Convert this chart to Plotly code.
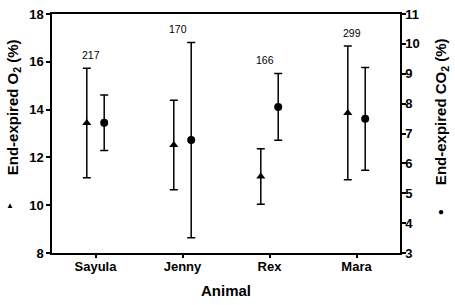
import plotly.graph_objects as go

animals = ["Sayula", "Jenny", "Rex", "Mara"]
o2_mean = [13.44, 12.52, 11.20, 13.86]
o2_sd = [2.29, 1.87, 1.16, 2.80]
co2_mean = [7.36, 6.78, 7.89, 7.49]
co2_sd = [0.93, 3.27, 1.12, 1.72]
n_breaths = ["217", "170", "166", "299"]

O2_RANGE = [8, 18]
CO2_RANGE = [3, 11]

xs = list(range(len(animals)))
off = 0.1
FONT = "Liberation Sans, Arial, sans-serif"

fig = go.Figure()
fig.add_trace(go.Scatter(
    x=[x - off for x in xs], y=o2_mean, mode="markers",
    marker=dict(symbol="triangle-up", size=8, color="black"),
    error_y=dict(type="data", array=o2_sd, visible=True, color="black", thickness=1.5, width=4),
    showlegend=False))
fig.add_trace(go.Scatter(
    x=[x + off for x in xs], y=co2_mean, mode="markers", yaxis="y2",
    marker=dict(symbol="circle", size=8, color="black"),
    error_y=dict(type="data", array=co2_sd, visible=True, color="black", thickness=1.5, width=4),
    showlegend=False))

anns = []
for i, lab in enumerate(n_breaths):
    top_o2 = (o2_mean[i] + o2_sd[i] - O2_RANGE[0]) / (O2_RANGE[1] - O2_RANGE[0])
    top_co2 = (co2_mean[i] + co2_sd[i] - CO2_RANGE[0]) / (CO2_RANGE[1] - CO2_RANGE[0])
    anns.append(dict(x=xs[i] - 0.05, y=max(top_o2, top_co2), xref="x", yref="paper",
                     text=lab, showarrow=False, yanchor="middle", yshift=13,
                     font=dict(family=FONT, size=10.5, color="black")))

n_ann = len(anns)
anns += [
    dict(x=13, y=103, text="<b>End-expired O<sub>2</sub> (%)</b>",
         textangle=-90, font=dict(family=FONT, size=15, color="black")),
    dict(x=10, y=204, text="▲", font=dict(family=FONT, size=8, color="black")),
    dict(x=441, y=108, text="<b>End-expired CO<sub>2</sub> (%)</b>",
         textangle=-90, font=dict(family=FONT, size=15, color="black")),
    dict(x=441, y=210, text="●", font=dict(family=FONT, size=10, color="black")),
    dict(x=226, y=292, text="<b>Animal</b>", font=dict(family=FONT, size=15, color="black")),
]
# convert pixel-positioned labels to paper coords
L, R, T, B, W, H = 52, 55, 7, 52, 455, 305
pw, ph = W - L - R, H - T - B
for a in anns[n_ann:]:
    a["showarrow"] = False
    a["xref"] = "paper"; a["yref"] = "paper"
    a["x"] = (a["x"] - L) / pw
    a["y"] = (H - B - a["y"]) / ph
    a["xanchor"] = "center"; a["yanchor"] = "middle"

axis_common = dict(showline=True, linecolor="black", linewidth=1.5, ticks="outside",
                   tickcolor="black", tickwidth=1.5, showgrid=False, zeroline=False,
                   tickfont=dict(family=FONT, size=13, color="black"))

fig.update_layout(
    width=W, height=H, margin=dict(l=L, r=R, t=T, b=B),
    paper_bgcolor="white", plot_bgcolor="white",
    xaxis=dict(range=[-0.5, 3.5], tickvals=xs, ticktext=[f"<b>{a}</b>" for a in animals],
               ticklen=3, mirror=True, ticklabelstandoff=-2, **axis_common),
    yaxis=dict(range=O2_RANGE, dtick=2, ticklen=4, tickprefix="<b>", ticksuffix="</b>",
               **axis_common),
    yaxis2=dict(range=CO2_RANGE, dtick=1, overlaying="y", side="right", ticklen=4,
                tickprefix="<b>", ticksuffix="</b>", ticklabelstandoff=-3, **axis_common),
    annotations=anns,
)
fig.write_html("out.html", config={"displayModeBar": False},
               post_script="document.body.style.margin='0';")
